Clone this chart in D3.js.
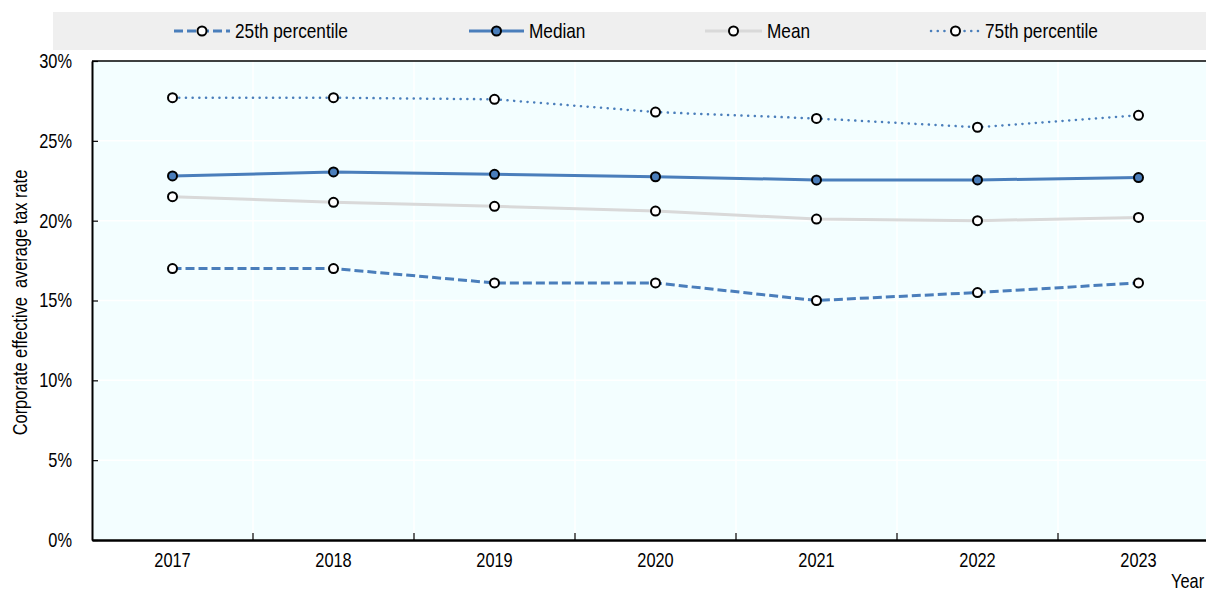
<!DOCTYPE html>
<html>
<head>
<meta charset="utf-8">
<script src="https://cdn.jsdelivr.net/npm/d3@7"></script>
<style>
  body { margin: 0; background: #fff; }
  svg { display: block; overflow: hidden; }
  text { font-family: "Liberation Sans", Arial, sans-serif; fill: #000; }
</style>
</head>
<body>
<script>
var width = 1206,
    height = 590;

// values (percent)
var years = ["2017", "2018", "2019", "2020", "2021", "2022", "2023"];
var p25 = [17.0, 17.0, 16.1, 16.1, 15.0, 15.5, 16.1];
var median = [22.8, 23.05, 22.9, 22.75, 22.55, 22.55, 22.7];
var mean = [21.5, 21.15, 20.9, 20.6, 20.1, 20.0, 20.2];
var p75 = [27.7, 27.7, 27.6, 26.8, 26.4, 25.85, 26.6];
var yTicks = [0, 5, 10, 15, 20, 25, 30];

var blue = "#4a7ebb",
    grey = "#d9d9d9";

var series = [
  {name: "25th percentile", values: p25, color: blue, width: 3, dash: "9,4", fill: "#fff", cap: "butt"},
  {name: "Median", values: median, color: blue, width: 3, dash: null, fill: blue, cap: "butt"},
  {name: "Mean", values: mean, color: grey, width: 3, dash: null, fill: "#fff", cap: "butt"},
  {name: "75th percentile", values: p75, color: blue, width: 2.5, dash: "0.1,6.6", fill: "#fff", cap: "round"}
];

var plotLeft = 92, plotTop = 61, plotBottom = 540, step = 161;
var squeeze = 0.82; // narrow font look

var x = d3.scaleBand()
    .domain(years)
    .range([plotLeft, plotLeft + step * years.length]);

var y = d3.scaleLinear()
    .domain([0, 30])
    .range([plotBottom, plotTop]);

// squeeze text horizontally around its anchor point
function narrow(sel) {
  sel.each(function() {
    var t = d3.select(this),
        tx = +t.attr("x") || 0,
        ty = +t.attr("y") || 0,
        pre = t.attr("transform") || "";
    t.attr("x", 0).attr("y", 0)
     .attr("transform", pre + " translate(" + tx + "," + ty + ") scale(" + squeeze + ",1)");
  });
}

var svg = d3.select("body").append("svg")
    .attr("width", width)
    .attr("height", height);

// legend band
svg.append("rect")
    .attr("x", 53).attr("y", 12)
    .attr("width", width - 53).attr("height", 38)
    .attr("fill", "#efefef");

var legendX = [174, 469, 705, 931],
    legendLen = [56, 55, 57, 49];

var leg = svg.selectAll(".leg")
    .data(series)
  .enter().append("g")
    .attr("class", "leg")
    .attr("transform", function(d, i) { return "translate(" + legendX[i] + ",31)"; });

leg.append("line")
    .attr("x1", 0).attr("x2", function(d, i) { return legendLen[i]; })
    .attr("stroke", function(d) { return d.color; })
    .attr("stroke-width", function(d) { return d.width; })
    .attr("stroke-dasharray", function(d) { return d.dash; })
    .attr("stroke-linecap", function(d) { return d.cap; });

leg.append("circle")
    .attr("cx", function(d, i) { return legendLen[i] / 2; })
    .attr("r", 4.5)
    .attr("fill", function(d) { return d.fill; })
    .attr("stroke", "#000")
    .attr("stroke-width", 2);

leg.append("text")
    .attr("x", function(d, i) { return legendLen[i] + 5; })
    .attr("dy", "0.35em")
    .style("font-size", "21px")
    .text(function(d) { return d.name; })
    .call(narrow);

// plot background
svg.append("rect")
    .attr("x", plotLeft).attr("y", plotTop)
    .attr("width", width - plotLeft).attr("height", plotBottom - plotTop)
    .attr("fill", "#f3feff");

// white grid
svg.selectAll(".hgrid")
    .data(yTicks.slice(1, -1))
  .enter().append("line")
    .attr("x1", plotLeft).attr("x2", width)
    .attr("y1", function(d) { return y(d); }).attr("y2", function(d) { return y(d); })
    .attr("stroke", "#fff").attr("stroke-width", 1.5);

svg.selectAll(".vgrid")
    .data(years.slice(1))
  .enter().append("line")
    .attr("x1", function(d) { return x(d); }).attr("x2", function(d) { return x(d); })
    .attr("y1", plotTop).attr("y2", plotBottom)
    .attr("stroke", "#fff").attr("stroke-width", 1.5);

// top border
svg.append("line")
    .attr("x1", plotLeft).attr("x2", width)
    .attr("y1", plotTop).attr("y2", plotTop)
    .attr("stroke", "#000").attr("stroke-width", 1.5);

// y axis
var yAxis = svg.append("g")
    .attr("transform", "translate(" + plotLeft + ",0)")
    .call(d3.axisLeft(y).tickValues(yTicks).tickFormat(function(d) { return d + "%"; })
      .tickSizeInner(-6).tickSizeOuter(0).tickPadding(20));
yAxis.select(".domain").attr("stroke-width", 2);
yAxis.selectAll(".tick line").attr("stroke-width", 1.2);
yAxis.selectAll("text").style("font-size", "20px").attr("font-family", null).call(narrow);

// x axis
var xAxis = svg.append("g")
    .attr("transform", "translate(0," + plotBottom + ")")
    .call(d3.axisBottom(x).tickSize(0).tickPadding(13));
xAxis.select(".domain").attr("stroke-width", 2.5);
xAxis.selectAll("text").style("font-size", "20px").attr("font-family", null).call(narrow);

xAxis.selectAll(".bound")
    .data(years.slice(1))
  .enter().append("line")
    .attr("x1", function(d) { return x(d); }).attr("x2", function(d) { return x(d); })
    .attr("y1", 0).attr("y2", -7)
    .attr("stroke", "#000").attr("stroke-width", 1.2);

svg.append("text")
    .attr("x", 1171).attr("y", 588)
    .style("font-size", "20px")
    .text("Year")
    .call(narrow);

svg.append("text")
    .attr("transform", "translate(20," + ((plotTop + plotBottom) / 2 + 2) + ") rotate(-90) scale(" + squeeze + ",1)")
    .attr("text-anchor", "middle")
    .attr("dy", "0.35em")
    .style("font-size", "20px")
    .style("white-space", "pre")
    .text("Corporate effective  average tax rate");

// lines and markers
var line = d3.line()
    .x(function(d, i) { return x(years[i]) + x.bandwidth() / 2; })
    .y(function(d) { return y(d); });

var drawOrder = [series[3], series[0], series[2], series[1]];

var g = svg.selectAll(".series")
    .data(drawOrder)
  .enter().append("g")
    .attr("class", "series");

g.append("path")
    .attr("d", function(d) { return line(d.values); })
    .attr("fill", "none")
    .attr("stroke", function(d) { return d.color; })
    .attr("stroke-width", function(d) { return d.width; })
    .attr("stroke-dasharray", function(d) { return d.dash; })
    .attr("stroke-linecap", function(d) { return d.cap; });

g.selectAll("circle")
    .data(function(d) { return d.values.map(function(v, i) { return {v: v, i: i, fill: d.fill}; }); })
  .enter().append("circle")
    .attr("cx", function(d) { return x(years[d.i]) + x.bandwidth() / 2; })
    .attr("cy", function(d) { return y(d.v); })
    .attr("r", 4.5)
    .attr("fill", function(d) { return d.fill; })
    .attr("stroke", "#000")
    .attr("stroke-width", 2);
</script>
</body>
</html>
